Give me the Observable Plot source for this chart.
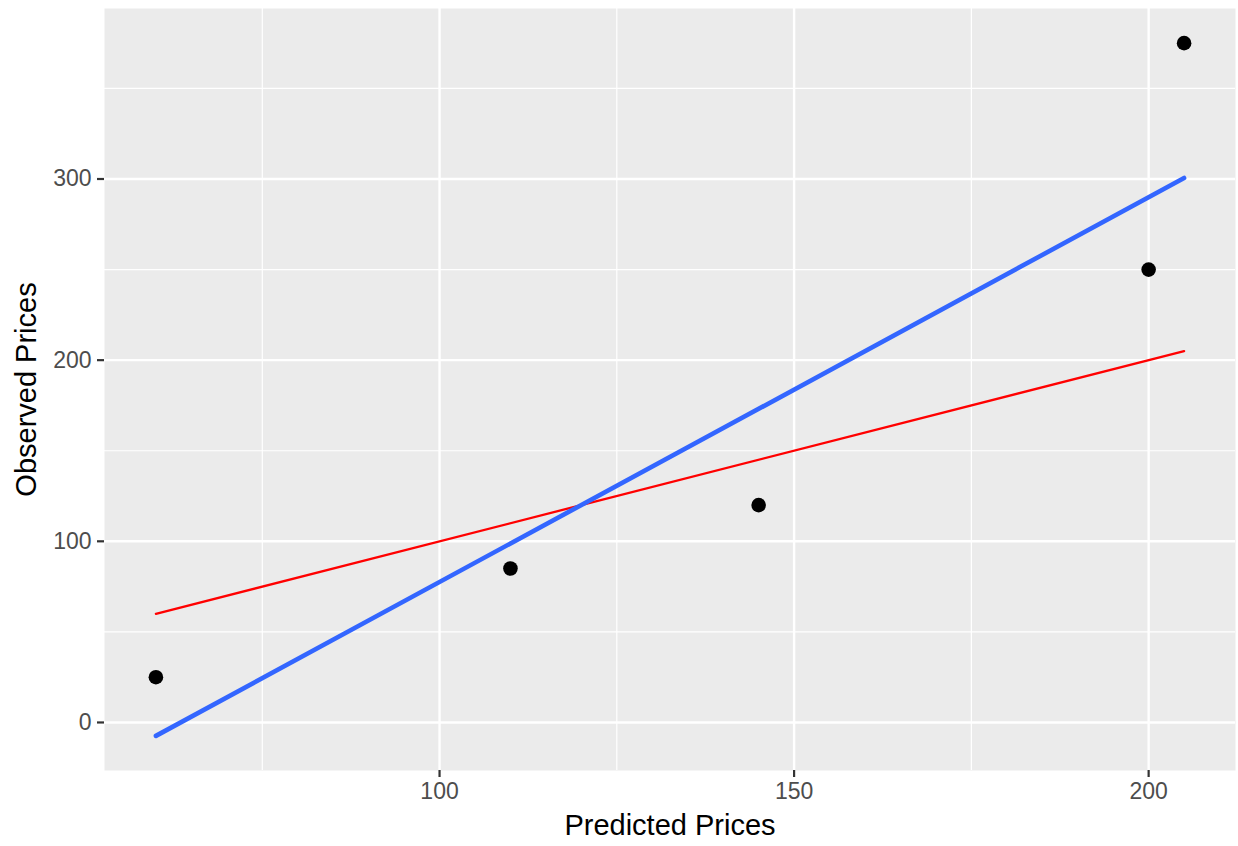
<!DOCTYPE html>
<html>
<head>
<meta charset="utf-8">
<script src="https://cdn.jsdelivr.net/npm/d3@7"></script>
<script src="https://cdn.jsdelivr.net/npm/@observablehq/plot@0.6"></script>
<style>
  html, body { margin: 0; padding: 0; background: white; }
</style>
</head>
<body>
<div id="chart"></div>
<script>
const predicted = [60, 110, 145, 200, 205];
const observed = [25, 85, 120, 250, 375];
const xTicks = [100, 150, 200];
const yTicks = [0, 100, 200, 300];
const xMinor = [75, 125, 175];
const yMinor = [50, 150, 250, 350];
const xLabel = "Predicted Prices";
const yLabel = "Observed Prices";

const data = predicted.map((p, i) => ({predicted: p, observed: observed[i]}));

// least-squares fit (as ggplot geom_smooth(method = "lm"))
const mx = d3.mean(predicted), my = d3.mean(observed);
const slope = d3.sum(data, d => (d.predicted - mx) * (d.observed - my)) / d3.sum(data, d => (d.predicted - mx) ** 2);
const intercept = my - slope * mx;
const xExt = d3.extent(predicted);
const fitted = xExt.map(x => ({predicted: x, fit: intercept + slope * x}));
const identity = xExt.map(x => ({predicted: x, ident: x}));

// ggplot-style 5% expansion
const expand = ([a, b]) => [a - (b - a) * 0.05, b + (b - a) * 0.05];
const xDomain = expand(xExt);
const yDomain = expand(d3.extent([...observed, ...fitted.map(d => d.fit), ...identity.map(d => d.ident)]));

const chart = Plot.plot({
  width: 1238,
  height: 846,
  marginLeft: 104,
  marginRight: 3,
  marginTop: 8,
  marginBottom: 76,
  style: {fontFamily: "'Liberation Sans', Arial, sans-serif", background: "white"},
  x: {domain: xDomain},
  y: {domain: yDomain},
  marks: [
    Plot.frame({fill: "#EBEBEB", stroke: null}),
    Plot.gridX(xMinor, {stroke: "white", strokeOpacity: 1, strokeWidth: 1.2}),
    Plot.gridY(yMinor, {stroke: "white", strokeOpacity: 1, strokeWidth: 1.2}),
    Plot.gridX(xTicks, {stroke: "white", strokeOpacity: 1, strokeWidth: 2.4}),
    Plot.gridY(yTicks, {stroke: "white", strokeOpacity: 1, strokeWidth: 2.4}),
    Plot.axisX({ticks: xTicks, tickSize: 7, tickPadding: 5, stroke: "#333333", strokeWidth: 2.2, fill: "#4D4D4D", fontSize: 23, label: null}),
    Plot.axisY({ticks: yTicks, tickSize: 7, tickPadding: 6, stroke: "#333333", strokeWidth: 2.2, fill: "#4D4D4D", fontSize: 23, label: null}),
    Plot.dot(data, {x: "predicted", y: "observed", r: 7.3, fill: "black", stroke: null}),
    Plot.line(identity, {x: "predicted", y: "ident", stroke: "red", strokeWidth: 2.3}),
    Plot.line(fitted, {x: "predicted", y: "fit", stroke: "#3366FF", strokeWidth: 4.6}),
    Plot.text([xLabel], {frameAnchor: "bottom", text: d => d, dy: 64, fontSize: 29, fill: "black"}),
    Plot.text([yLabel], {frameAnchor: "left", textAnchor: "middle", text: d => d, dx: -78, rotate: -90, fontSize: 29, fill: "black"})
  ]
});
document.getElementById("chart").appendChild(chart);
</script>
</body>
</html>
